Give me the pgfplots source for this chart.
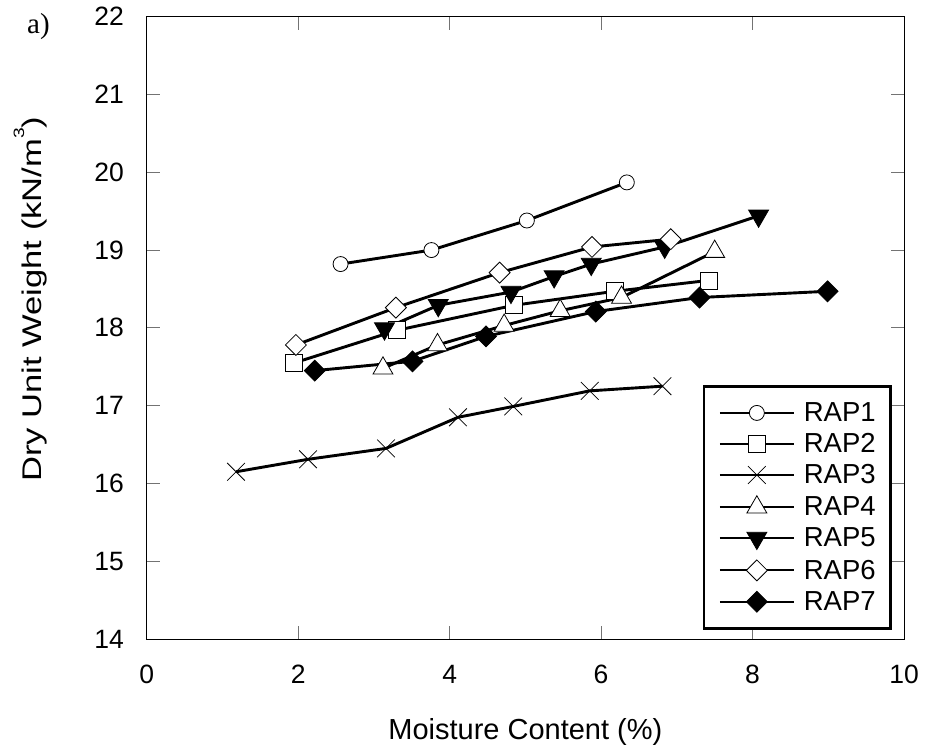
\documentclass[border=0pt]{standalone}
\usepackage{fontspec}
\setmainfont{Liberation Sans}
\newfontfamily\panelfont{Liberation Serif}
\usepackage{pgfplots}
\pgfplotsset{compat=1.18}

\begin{document}
\begin{tikzpicture}
\path[use as bounding box] (-146.7bp,-114bp) rectangle (778.3bp,639bp);
\begin{axis}[
  at={(0,0)}, anchor=south west,
  scale only axis, width=757.3bp, height=622.3bp,
  xmin=0, xmax=10, ymin=14, ymax=22,
  xtick={0,2,...,10}, ytick={14,15,...,22},
  tick align=inside, major tick length=13bp,
  xtick pos=both, ytick pos=both,
  xticklabel pos=lower, yticklabel pos=left,
  tick style={black!55, line width=0.9bp},
  axis line style={line width=1bp},
  /pgf/number format/assume math mode=true,
  ticklabel style={font=\fontsize{26.5bp}{30bp}\selectfont},
  xticklabel style={inner sep=0pt, anchor=north, yshift=-26bp},
  yticklabel style={inner sep=0pt, anchor=east, xshift=-22.7bp},
  xlabel={Moisture Content (\%)},
  ylabel={Dry Unit Weight (kN/m\raisebox{17.5bp}{\fontsize{15bp}{18bp}\selectfont 3})},
  xlabel style={font=\fontsize{29bp}{34bp}\selectfont, at={(axis description cs:0.5,-0.1623)}, anchor=base, inner sep=0pt},
  ylabel style={font=\fontsize{27bp}{32bp}\selectfont, at={(axis description cs:-0.1387,0.546)}, anchor=base, inner sep=0pt, xscale=1.28},
  clip=false,
  legend style={at={(rel axis cs:1,0)}, anchor=south east, xshift=-12bp, yshift=9bp,
    draw=black, line width=2.6bp, inner xsep=15bp, inner ysep=16.5bp,
    row sep=10.4bp, column sep=9bp,
    font=\fontsize{27.5bp}{30bp}\selectfont,
    nodes={inner sep=0pt}, cells={anchor=west}},
  legend image code/.code={%
    \draw[mark repeat=2, mark phase=2, #1, line width=2bp]
      plot coordinates {(0bp,0bp) (37bp,0bp) (74bp,0bp)};},
  every axis plot/.append style={black, line width=2.9bp},
]

% RAP1 -- open circles
\addplot[mark=*, mark size=7.5bp, mark options={fill=white, draw=black, line width=0.8bp}]
  coordinates {(2.56,18.82) (3.76,19.00) (5.02,19.38) (6.34,19.87)};
\addlegendentry{RAP1}

% RAP2 -- open squares
\addplot[mark=square*, mark size=8.5bp, mark options={fill=white, draw=black, line width=0.8bp}]
  coordinates {(1.95,17.55) (3.31,17.97) (4.85,18.29) (6.18,18.47) (7.42,18.61)};
\addlegendentry{RAP2}

% RAP3 -- crosses
\addplot[mark=x, mark size=12.5bp, mark options={draw=black, line width=0.8bp}]
  coordinates {(1.18,16.15) (2.13,16.31) (3.16,16.45) (4.11,16.85) (4.84,16.99) (5.85,17.19) (6.81,17.25)};
\addlegendentry{RAP3}

% RAP4 -- open triangles
\addplot[mark=triangle*, mark size=11.5bp, mark options={fill=white, draw=black, line width=0.8bp}]
  coordinates {(3.12,17.48) (3.84,17.78) (4.72,18.03) (5.46,18.22) (6.27,18.39) (7.50,18.98)};
\addlegendentry{RAP4}

% RAP5 -- filled inverted triangles
\addplot[mark=triangle*, mark size=11.5bp, mark options={fill=black, draw=black, line width=0.8bp, rotate=180}]
  coordinates {(3.14,17.99) (3.85,18.29) (4.81,18.46) (5.38,18.66) (5.87,18.82) (6.84,19.04) (8.08,19.44)};
\addlegendentry{RAP5}

% RAP6 -- open diamonds
\addplot[mark=square*, mark size=7.4bp, mark options={fill=white, draw=black, line width=0.8bp, rotate=45}]
  coordinates {(1.97,17.78) (3.29,18.26) (4.66,18.71) (5.88,19.04) (6.92,19.14)};
\addlegendentry{RAP6}

% RAP7 -- filled diamonds
\addplot[mark=square*, mark size=7.4bp, mark options={fill=black, draw=black, line width=0.8bp, rotate=45}]
  coordinates {(2.22,17.45) (3.51,17.57) (4.48,17.89) (5.93,18.21) (7.30,18.39) (8.99,18.47)};
\addlegendentry{RAP7}

\node[anchor=base west, inner sep=0pt, xshift=-119.7bp, yshift=-16.3bp,
      font=\panelfont\fontsize{29bp}{32bp}\selectfont] at (rel axis cs:0,1) {a)};
\end{axis}
\end{tikzpicture}
\end{document}
